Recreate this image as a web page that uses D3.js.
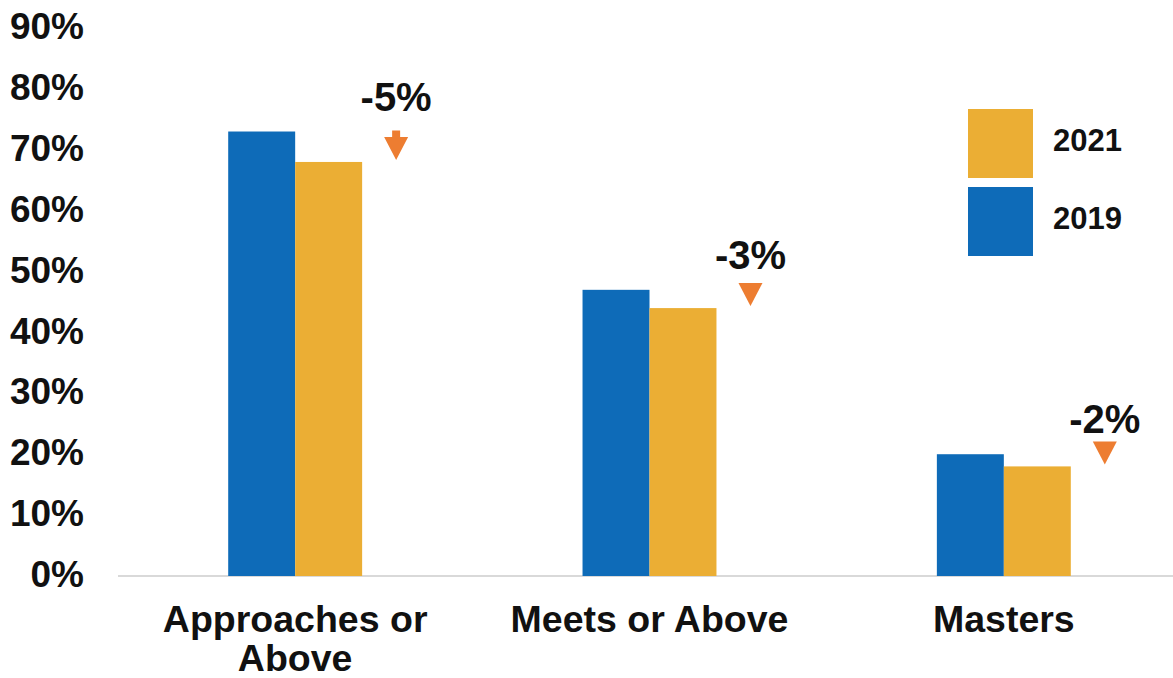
<!DOCTYPE html>
<html>
<head>
<meta charset="utf-8">
<script src="https://cdn.jsdelivr.net/npm/d3@7/dist/d3.min.js"></script>
<style>
  html, body { margin: 0; padding: 0; background: #fff; }
  svg { display: block; font-family: "Liberation Sans", Arial, Helvetica, sans-serif; }
</style>
</head>
<body>
<svg id="chart" width="1173" height="678"></svg>
<script>
// Share of students at each performance level
const categories = [["Approaches or", "Above"], ["Meets or Above"], ["Masters"]];
const values2019 = [0.73, 0.47, 0.20];
const values2021 = [0.68, 0.44, 0.18];
const changeLabels = ["-5%", "-3%", "-2%"];
const yTicks = [0, 0.1, 0.2, 0.3, 0.4, 0.5, 0.6, 0.7, 0.8, 0.9];
const seriesNames = ["2021", "2019"];

const colors = { "2019": "#0E6BB8", "2021": "#EBAE34" };
const arrowColor = "#ED7D31";

const svg = d3.select("#chart");
const W = 1173, H = 678;

const x = d3.scaleBand()
  .domain(d3.range(categories.length))
  .range([118, 1181])
  .paddingInner(0.622)
  .paddingOuter(0.311);

const xs = d3.scaleBand()
  .domain(["2019", "2021"])
  .range([0, x.bandwidth()]);

const y = d3.scaleLinear().domain([0, 0.9]).range([576, 28]);

// y axis labels
const yAxis = d3.axisLeft(y)
  .tickValues(yTicks)
  .tickFormat(d3.format(".0%"))
  .tickSize(0)
  .tickPadding(0);

const ya = svg.append("g").attr("transform", "translate(84,0)").call(yAxis);
ya.select(".domain").remove();
ya.selectAll("text")
  .attr("font-family", "Liberation Sans, Arial, sans-serif")
  .attr("font-size", 37)
  .attr("font-weight", "bold")
  .attr("fill", "#111")
  .attr("dy", "0.34em")
  .attr("y", -2);

// baseline
svg.append("line")
  .attr("x1", 118).attr("x2", W)
  .attr("y1", y(0)).attr("y2", y(0))
  .attr("stroke", "#d9d9d9").attr("stroke-width", 2);

// bars
const rows = categories.map((c, i) => ({ i, v2019: values2019[i], v2021: values2021[i] }));

const groups = svg.append("g").selectAll("g")
  .data(rows).join("g")
  .attr("transform", d => `translate(${x(d.i)},0)`);

groups.append("rect")
  .attr("x", xs("2019")).attr("width", xs.bandwidth())
  .attr("y", d => y(d.v2019)).attr("height", d => y(0) - y(d.v2019))
  .attr("fill", colors["2019"]);

groups.append("rect")
  .attr("x", xs("2021")).attr("width", xs.bandwidth())
  .attr("y", d => y(d.v2021)).attr("height", d => y(0) - y(d.v2021))
  .attr("fill", colors["2021"]);

// change arrows and labels
const headH = 23, headW = 24, shaftW = 8;
groups.each(function (d) {
  const g = d3.select(this);
  const cx = x.bandwidth() + 34;
  const tip = y(d.v2021) - 2;
  const top = y(d.v2019) - 1;
  const headTop = tip - headH;
  let path;
  if (top < headTop - 1) {
    path = `M${cx - shaftW / 2},${top} L${cx + shaftW / 2},${top} L${cx + shaftW / 2},${headTop}
            L${cx + headW / 2},${headTop} L${cx},${tip} L${cx - headW / 2},${headTop}
            L${cx - shaftW / 2},${headTop} Z`;
  } else {
    path = `M${cx - headW / 2},${headTop} L${cx + headW / 2},${headTop} L${cx},${tip} Z`;
  }
  g.append("path").attr("d", path).attr("fill", arrowColor);

  g.append("text")
    .attr("x", cx)
    .attr("y", y(d.v2019) - 21)
    .attr("text-anchor", "middle")
    .attr("font-size", 40)
    .attr("font-weight", "bold")
    .attr("fill", "#111")
    .text(changeLabels[d.i]);
});

// category labels
const catLabels = svg.append("g").selectAll("text")
  .data(categories).join("text")
  .attr("x", (d, i) => x(i) + x.bandwidth() / 2)
  .attr("y", 632)
  .attr("text-anchor", "middle")
  .attr("font-size", 37.5)
  .attr("font-weight", "bold")
  .attr("fill", "#111");

catLabels.selectAll("tspan")
  .data(d => d).join("tspan")
  .attr("x", function () { return d3.select(this.parentNode).attr("x"); })
  .attr("dy", (d, j) => j === 0 ? 0 : 39)
  .text(d => d);

// legend
const legend = svg.append("g").attr("transform", "translate(968,109)");
const legItems = legend.selectAll("g")
  .data(seriesNames).join("g")
  .attr("transform", (d, i) => `translate(0,${i * 78})`);

legItems.append("rect")
  .attr("width", 65).attr("height", 69)
  .attr("fill", d => colors[d]);

legItems.append("text")
  .attr("x", 85).attr("y", 42)
  .attr("font-size", 31)
  .attr("font-weight", "bold")
  .attr("fill", "#111")
  .text(d => d);
</script>
</body>
</html>
